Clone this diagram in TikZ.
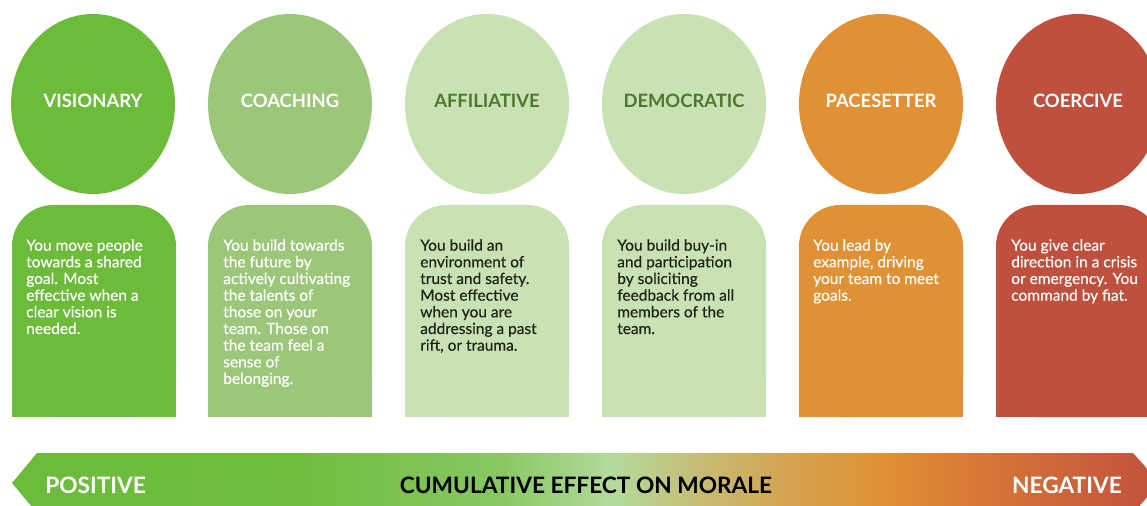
\documentclass[tikz,border=0pt]{standalone}
\usepackage{fontspec}
\setmainfont{Lato}
\newfontfamily\medfont[FakeBold=0.35]{Lato}
\usetikzlibrary{shapes.geometric}
\definecolor{cVis}{RGB}{108,187,59}
\definecolor{cCoa}{RGB}{156,199,122}
\definecolor{cAff}{RGB}{200,226,180}
\definecolor{cPac}{RGB}{224,145,53}
\definecolor{cCoe}{RGB}{192,80,62}
\definecolor{dkgreen}{RGB}{80,118,48}
\definecolor{dktext}{RGB}{30,35,25}
\definecolor{s1}{RGB}{112,189,64}
\definecolor{s2}{RGB}{135,200,98}
\definecolor{s3}{RGB}{180,218,155}
\definecolor{s4}{RGB}{198,188,115}
\definecolor{s5}{RGB}{212,163,80}
\definecolor{s6}{RGB}{224,145,50}
\definecolor{s7}{RGB}{214,118,55}
\definecolor{s8}{RGB}{194,80,60}
\pgfdeclarehorizontalshading{morale}{100bp}{color(0bp)=(cVis); color(25bp)=(cVis); color(37.5bp)=(s1); color(46.25bp)=(s2); color(51.2bp)=(s3); color(55bp)=(s4); color(58.8bp)=(s5); color(62.9bp)=(s6); color(67.3bp)=(s7); color(75bp)=(s8); color(100bp)=(s8)}
\begin{document}
\begin{tikzpicture}[x=0.75pt,y=-0.75pt,
  bubble/.style={ellipse, minimum width=123pt, minimum height=135pt, inner sep=0pt, draw=none},
  title/.style={anchor=base, inner sep=0pt, font=\bfseries\fontsize{13.8}{16}\selectfont},
  desc/.style={anchor=north west, inner sep=0pt, align=left, font=\medfont\fontsize{11.6}{12.5}\selectfont},
  scale label/.style={inner sep=0pt, font=\bfseries\fontsize{17}{19}\selectfont}]
\useasboundingbox (0,0) rectangle (1147,506);
\clip (0,0) rectangle (1147,506);
% bubbles
\node[bubble, fill=cVis] (b1) at (93,104) {};
\node[bubble, fill=cCoa] (b2) at (290,104) {};
\node[bubble, fill=cAff] (b3) at (487,104) {};
\node[bubble, fill=cAff] (b4) at (684,104) {};
\node[bubble, fill=cPac] (b5) at (881,104) {};
\node[bubble, fill=cCoe] (b6) at (1078,104) {};
\node[title, text=white] (t1) at (93,108) {VISIONARY};
\node[title, text=white] (t2) at (290,108) {COACHING};
\node[title, text=dkgreen] (t3) at (487,108) {AFFILIATIVE};
\node[title, text=dkgreen] (t4) at (684,108) {DEMOCRATIC};
\node[title, text=white] (t5) at (881,108) {PACESETTER};
\node[title, text=white] (t6) at (1078,108) {COERCIVE};
% boxes
\foreach \x/\c in {12/cVis, 208/cCoa, 405/cAff, 602/cAff, 799/cPac, 996/cCoe}{
  \fill[\c, rounded corners=31pt] (\x,417) -- (\x,205) -- ({\x+164},205) -- ({\x+164},417) -- cycle;
  \fill[\c] (\x,300) rectangle ({\x+164},417);
}
\node[desc, text=white] (d1) at (26,239) {You move people\\towards a shared\\goal. Most\\effective when a\\clear vision is\\needed.};
\node[desc, text=white] (d2) at (223,239) {You build towards\\the future by\\actively cultivating\\the talents of\\those on your\\team. Those on\\the team feel a\\sense of\\belonging.};
\node[desc, text=dktext] (d3) at (420,239) {You build an\\environment of\\trust and safety.\\Most effective\\when you are\\addressing a past\\rift, or trauma.};
\node[desc, text=dktext] (d4) at (617,239) {You build buy-in\\and participation\\by soliciting\\feedback from all\\members of the\\team.};
\node[desc, text=white] (d5) at (813,239) {You lead by\\example, driving\\your team to meet\\goals.};
\node[desc, text=white] (d6) at (1011,239) {You give clear\\direction in a crisis\\or emergency. You\\command by fiat.};
% arrow
\shade[shading=morale] (12,483) -- (37,453) -- (1133,453) -- (1160,483) -- (1133,513) -- (37,513) -- cycle;
\node[scale label, anchor=base west, text=white] (pos) at (45,493) {POSITIVE};
\node[scale label, anchor=base, text=black] (mid) at (586,493) {CUMULATIVE EFFECT ON MORALE};
\node[scale label, anchor=base east, text=white] (neg) at (1122,493) {NEGATIVE};
\end{tikzpicture}
\end{document}
